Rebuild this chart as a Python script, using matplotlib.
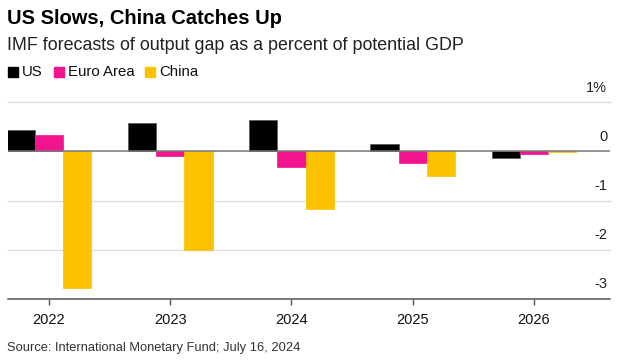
import numpy as np
import matplotlib.pyplot as plt
from matplotlib.patches import Rectangle

plt.rcParams['font.family'] = ['Liberation Sans', 'DejaVu Sans']

years = [2022, 2023, 2024, 2025, 2026]
us = [0.43, 0.58, 0.64, 0.15, -0.13]
euro_area = [0.34, -0.09, -0.32, -0.24, -0.06]
china = [-2.78, -2.0, -1.18, -0.49, -0.02]

series_names = ['US', 'Euro Area', 'China']
colors = ['#000000', '#f2148f', '#fcc200']
ytick_values = [1, 0, -1, -2, -3]
ytick_labels = ['1%', '0', '-1', '-2', '-3']


def main():
    fig = plt.figure(figsize=(6.27, 3.63), dpi=100)
    ax = fig.add_axes([8 / 627, 0.177, (610 - 8) / 627, 0.718 - 0.177])

    x = np.array(years, dtype=float)
    width = 0.233
    for i, (vals, col) in enumerate(zip([us, euro_area, china], colors)):
        ax.bar(x + (i - 1) * width, vals, width=width, color=col,
               edgecolor='#555555' if col == '#000000' else col,
               linewidth=0.5, zorder=3)

    ax.set_xlim(2022 - 0.338, 2026 + 0.627)
    ax.set_ylim(-3, 1)

    for v in ytick_values:
        if v == 0:
            ax.axhline(0, color='#777777', lw=1.1, zorder=4)
        elif v != -3:
            ax.axhline(v, color='#dddddd', lw=1, zorder=1, clip_on=False)
    for v, lab in zip(ytick_values, ytick_labels):
        ax.annotate(lab, xy=(1, v), xycoords=('axes fraction', 'data'),
                    xytext=(-2, 10.5), textcoords='offset points',
                    ha='right', va='center', fontsize=10.5, color='#222222')

    for s in ['top', 'right', 'left']:
        ax.spines[s].set_visible(False)
    ax.spines['bottom'].set_color('#555555')
    ax.spines['bottom'].set_linewidth(1.1)
    ax.set_yticks([])
    ax.set_xticks(years)
    ax.set_xticklabels([str(y) for y in years], fontsize=10.5, color='#111111')
    ax.tick_params(axis='x', length=4, width=1, color='#555555', pad=6)

    fig.text(7 / 627, 1 - 18 / 363, 'US Slows, China Catches Up', fontsize=14.5,
             fontweight='bold', va='center', ha='left', color='#000000')
    fig.text(7 / 627, 1 - 45 / 363,
             'IMF forecasts of output gap as a percent of potential GDP',
             fontsize=12.9, va='center', ha='left', color='#222222')

    lx = 8
    for name, col in zip(series_names, colors):
        fig.patches.append(Rectangle((lx / 627, 1 - 77 / 363), 10 / 627, 10 / 363,
                                     transform=fig.transFigure, color=col))
        t = fig.text((lx + 14) / 627, 1 - 72 / 363, name, fontsize=10.8,
                     va='center', ha='left', color='#111111')
        fig.canvas.draw()
        bb = t.get_window_extent()
        lx = bb.x1 + 11

    fig.text(7 / 627, 1 - 348 / 363,
             'Source: International Monetary Fund; July 16, 2024',
             fontsize=9.3, va='center', ha='left', color='#333333')

    fig.savefig('out.png', dpi=100, facecolor='white')


if __name__ == '__main__':
    main()
